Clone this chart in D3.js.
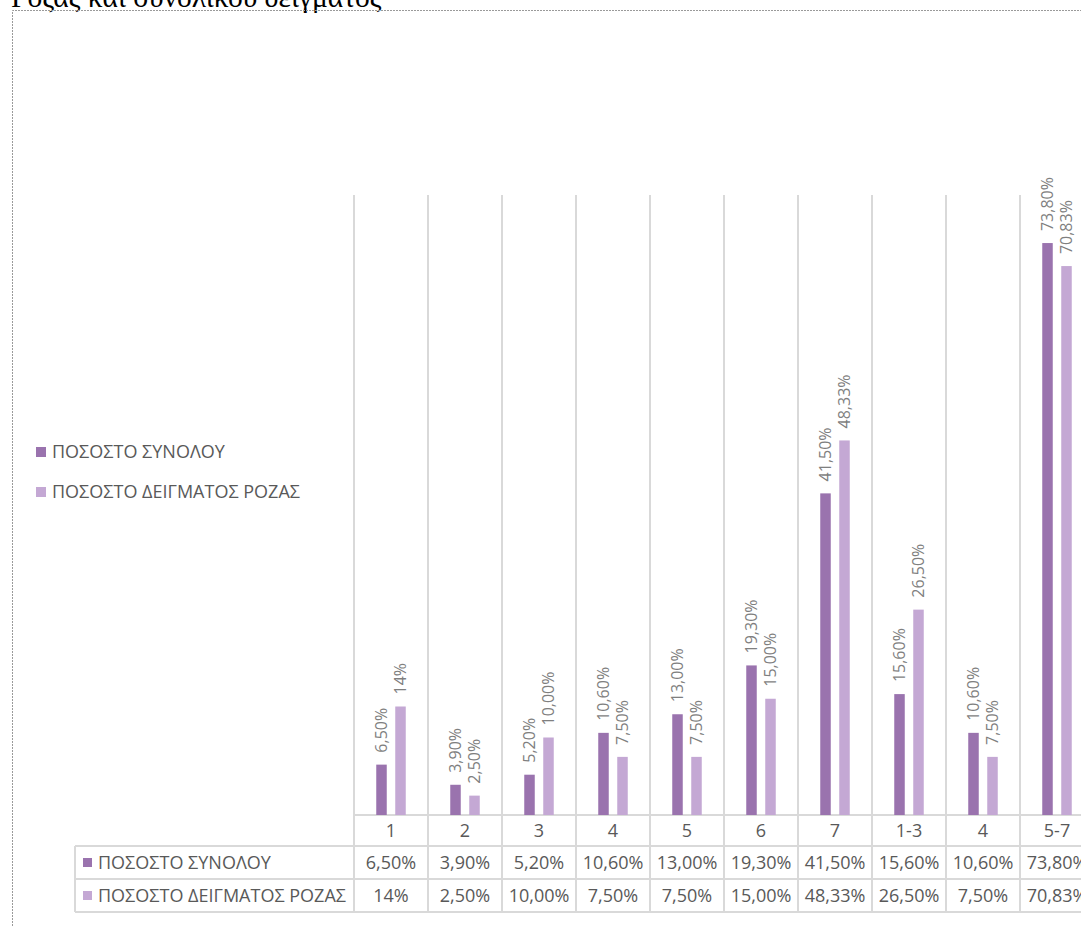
<!DOCTYPE html>
<html>
<head>
<meta charset="utf-8">
<script src="https://cdn.jsdelivr.net/npm/d3@7"></script>
<style>
  html, body { margin: 0; padding: 0; background: #fff; overflow: hidden; }
  svg { display: block; }
</style>
</head>
<body>
<svg id="chart" width="1081" height="926"></svg>
<script>
// ---- data ----
const categories = ["1", "2", "3", "4", "5", "6", "7", "1-3", "4", "5-7"];
const seriesNames = ["ΠΟΣΟΣΤΟ ΣΥΝΟΛΟΥ", "ΠΟΣΟΣΤΟ ΔΕΙΓΜΑΤΟΣ ΡΟΖΑΣ"];
const totalValues = [6.5, 3.9, 5.2, 10.6, 13.0, 19.3, 41.5, 15.6, 10.6, 73.8];
const roseValues = [14, 2.5, 10.0, 7.5, 7.5, 15.0, 48.33, 26.5, 7.5, 70.83];
const totalLabels = ["6,50%", "3,90%", "5,20%", "10,60%", "13,00%", "19,30%", "41,50%", "15,60%", "10,60%", "73,80%"];
const roseLabels = ["14%", "2,50%", "10,00%", "7,50%", "7,50%", "15,00%", "48,33%", "26,50%", "7,50%", "70,83%"];
const seriesColors = ["#9a73ae", "#c4a8d4"];
const titleText = "Ρόζας και συνολικού δείγματος";

const seriesValues = [totalValues, roseValues];
const seriesLabels = [totalLabels, roseLabels];

const svg = d3.select("#chart");
const FONT = "'Open Sans', 'Noto Sans', sans-serif";
const gridColor = "#d9d9d9";

// title (partly cut at top)
svg.append("text")
  .attr("x", 11).attr("y", 7)
  .attr("font-family", "'Liberation Serif', 'DejaVu Serif', serif")
  .attr("font-size", 29.5)
  .attr("fill", "#000")
  .text(titleText);

// dotted frame
svg.append("path")
  .attr("d", "M12.5,926 L12.5,10.5 L1081,10.5")
  .attr("fill", "none")
  .attr("stroke", "#9a9a9a")
  .attr("stroke-width", 1)
  .attr("stroke-dasharray", "2,1");

// scales
const idx = d3.range(categories.length);
const x = d3.scaleBand().domain(idx).range([354, 1094]).paddingInner(0).paddingOuter(0);
const colW = x.bandwidth();
const x1 = d3.scaleBand().domain([0, 1])
  .range([colW / 2 - 14.75, colW / 2 + 14.75])
  .paddingInner(0.447).paddingOuter(0);
const y = d3.scaleLinear().domain([0, 80]).range([815, 195]);

const rowTop = [815, 846, 879, 912];

// vertical gridlines (category boundaries) through plot and table
const bounds = idx.map(i => x(i)).concat([x(idx[idx.length - 1]) + colW]);
svg.append("g").selectAll("line").data(bounds).join("line")
  .attr("x1", d => d).attr("x2", d => d)
  .attr("y1", y(80)).attr("y2", rowTop[3])
  .attr("stroke", gridColor).attr("stroke-width", 2);

// table horizontal lines
svg.append("line").attr("x1", 354).attr("x2", 1094)
  .attr("y1", rowTop[0]).attr("y2", rowTop[0])
  .attr("stroke", gridColor).attr("stroke-width", 2);
[rowTop[1], rowTop[2], rowTop[3]].forEach(yy => {
  svg.append("line").attr("x1", 75).attr("x2", 1094)
    .attr("y1", yy).attr("y2", yy)
    .attr("stroke", gridColor).attr("stroke-width", 2);
});
svg.append("line").attr("x1", 75).attr("x2", 75)
  .attr("y1", rowTop[1]).attr("y2", rowTop[3])
  .attr("stroke", gridColor).attr("stroke-width", 2);

// bars
seriesValues.forEach((vals, s) => {
  svg.append("g").selectAll("rect").data(vals).join("rect")
    .attr("x", (d, i) => x(i) + x1(s))
    .attr("width", x1.bandwidth())
    .attr("y", d => y(d))
    .attr("height", d => y(0) - y(d))
    .attr("fill", seriesColors[s]);
  // rotated labels
  svg.append("g").selectAll("text").data(vals).join("text")
    .attr("transform", (d, i) =>
      `translate(${x(i) + x1(s) + x1.bandwidth() / 2},${y(d) - 12}) rotate(-90)`)
    .attr("dy", "0.36em")
    .attr("text-anchor", "start")
    .attr("font-family", FONT)
    .attr("font-size", 16)
    .attr("fill", "#7f7f7f")
    .text((d, i) => seriesLabels[s][i]);
});

// category row
svg.append("g").selectAll("text").data(categories).join("text")
  .attr("x", (d, i) => x(i) + colW / 2)
  .attr("y", (rowTop[0] + rowTop[1]) / 2)
  .attr("dy", "0.36em")
  .attr("text-anchor", "middle")
  .attr("font-family", FONT).attr("font-size", 18)
  .attr("fill", "#595959")
  .text(d => d);

// value rows
seriesLabels.forEach((labs, s) => {
  const cy = (rowTop[s + 1] + rowTop[s + 2]) / 2;
  svg.append("g").selectAll("text").data(labs).join("text")
    .attr("x", (d, i) => x(i) + colW / 2)
    .attr("y", cy)
    .attr("dy", "0.36em")
    .attr("text-anchor", "middle")
    .attr("font-family", FONT).attr("font-size", 18)
    .attr("fill", "#595959")
    .text(d => d);
  // row header with key
  svg.append("rect").attr("x", 83).attr("y", cy - 4.5).attr("width", 9).attr("height", 9)
    .attr("fill", seriesColors[s]);
  svg.append("text").attr("x", 98).attr("y", cy).attr("dy", "0.36em")
    .attr("font-family", FONT).attr("font-size", 18)
    .attr("fill", "#595959")
    .text(seriesNames[s]);
});

// side legend
const legY = [452, 492];
seriesNames.forEach((n, s) => {
  svg.append("rect").attr("x", 36).attr("y", legY[s] - 5).attr("width", 10).attr("height", 10)
    .attr("fill", seriesColors[s]);
  svg.append("text").attr("x", 52).attr("y", legY[s]).attr("dy", "0.36em")
    .attr("font-family", FONT).attr("font-size", 18)
    .attr("fill", "#595959")
    .text(n);
});
</script>
</body>
</html>
